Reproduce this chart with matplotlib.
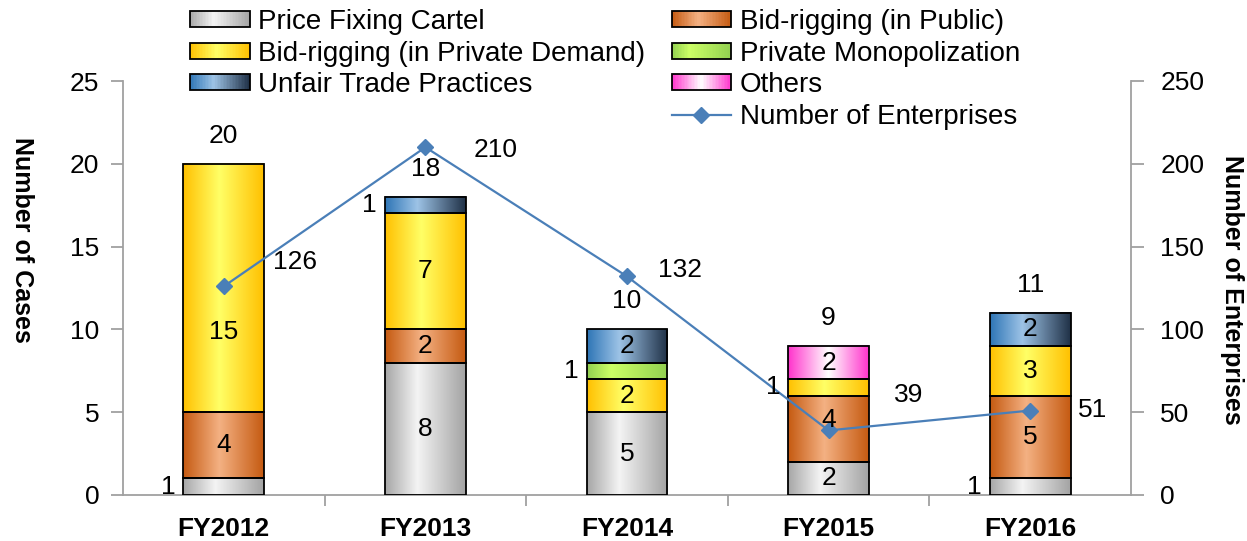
import numpy as np
import matplotlib
matplotlib.use('Agg')
import matplotlib.pyplot as plt
from matplotlib.colors import LinearSegmentedColormap
from matplotlib.patches import Rectangle
from matplotlib.lines import Line2D
from matplotlib.legend_handler import HandlerBase

years = ['FY2012', 'FY2013', 'FY2014', 'FY2015', 'FY2016']
price_fixing = [1, 8, 5, 2, 1]
bid_public = [4, 2, 0, 4, 5]
bid_private = [15, 7, 2, 1, 3]
private_mono = [0, 0, 1, 0, 0]
unfair_trade = [0, 1, 2, 0, 2]
others = [0, 0, 0, 2, 0]
enterprises = [126, 210, 132, 39, 51]

series_names = ['Price Fixing Cartel', 'Bid-rigging (in Public)',
                'Bid-rigging (in Private Demand)', 'Private Monopolization',
                'Unfair Trade Practices', 'Others']
series_vals = [price_fixing, bid_public, bid_private, private_mono,
               unfair_trade, others]

# horizontal gradient stops for each series
grads = [
    [(0, '#a6a6a6'), (0.4, '#f4f4f4'), (1, '#a3a3a3')],
    [(0, '#c55a11'), (0.45, '#f4b183'), (1, '#c55a11')],
    [(0, '#ffc000'), (0.45, '#ffff66'), (1, '#ffc000')],
    [(0, '#92d050'), (0.3, '#ccff66'), (1, '#92d050')],
    [(0, '#2e75b6'), (0.4, '#9dc3e6'), (1, '#1f3046')],
    [(0, '#ff33cc'), (0.5, '#ffffff'), (1, '#ff33cc')],
]
cmaps = [LinearSegmentedColormap.from_list('g%d' % i, g) for i, g in enumerate(grads)]
line_col = '#4a7fb8'
axis_col = '#a0a0a0'

# a few segment labels were nudged by hand in the original (pixels)
label_nudge = {(2, 0): (0, -44), (1, 3): (0, 9)}

plt.rcParams['font.family'] = ['Liberation Sans', 'DejaVu Sans']
plt.rcParams['font.size'] = 19

fig = plt.figure(figsize=(12.47, 5.41), dpi=100)
ax = fig.add_axes([123/1247, 1-495/541, 1008/1247, 414/541])
ax2 = ax.twinx()

x = np.arange(len(years))
w = 0.4
grad_img = np.linspace(0, 1, 256).reshape(1, -1)

bottoms = np.zeros(len(years))
for k, (vals, cm) in enumerate(zip(series_vals, cmaps)):
    for i, v in enumerate(vals):
        if v == 0:
            continue
        b = bottoms[i]
        ax.imshow(grad_img, cmap=cm, aspect='auto', zorder=2,
                  extent=[x[i]-w/2, x[i]+w/2, b, b+v])
        ax.bar(x[i], v, w, bottom=b, facecolor='none', edgecolor='black',
               linewidth=1.3, zorder=3)
        # labels go on ax2 so they sit above the line
        if v == 1:
            ax2.annotate(str(v), (x[i]-w/2, b+v/2), xycoords=ax.transData,
                         xytext=(-8, 0), textcoords='offset pixels',
                         ha='right', va='center', zorder=6)
        else:
            ax2.annotate(str(v), (x[i], b+v/2), xycoords=ax.transData,
                         xytext=label_nudge.get((k, i), (0, 0)),
                         textcoords='offset pixels',
                         ha='center', va='center', zorder=6)
    bottoms += np.array(vals)

for i, t in enumerate(bottoms):
    ax.annotate(str(int(t)), (x[i], t), xytext=(0, 28),
                textcoords='offset pixels', ha='center', va='center')

ax.set_xlim(-0.5, 4.5)
ax.set_ylim(0, 25)
ax.set_yticks(range(0, 26, 5))
ax.set_xticks(x)
ax.set_xticklabels(years, fontweight='bold', fontsize=19)
ax.set_xticks(np.arange(0.5, 4.5, 1), minor=True)
ax.tick_params(axis='x', which='major', length=0, pad=16)
ax.tick_params(axis='x', which='minor', length=8, color=axis_col, width=1.3)
ax.tick_params(axis='y', length=9, color=axis_col, width=1.3, pad=8)
for s in ['top', 'right']:
    ax.spines[s].set_visible(False)
for s in ['left', 'bottom']:
    ax.spines[s].set_color(axis_col)
    ax.spines[s].set_linewidth(1.3)
ax.set_ylabel('Number of Cases', fontweight='bold', fontsize=18,
              rotation=-90, ha='center', va='center')
ax.yaxis.set_label_coords(-0.100, 0.616)

ax2.plot(x, enterprises, color=line_col, lw=1.6, marker='D', ms=8, zorder=5)
offs = [(71, 24), (70, -3), (53, 6), (80, 35), (62, 1)]
for i, v in enumerate(enterprises):
    ax2.annotate(str(v), (x[i], v), xytext=offs[i], textcoords='offset pixels',
                 ha='center', va='center')
ax2.set_ylim(0, 250)
ax2.set_yticks(range(0, 251, 50))
ax2.tick_params(axis='y', length=9, color=axis_col, width=1.3, pad=12)
for s in ['top', 'left', 'bottom']:
    ax2.spines[s].set_visible(False)
ax2.spines['right'].set_color(axis_col)
ax2.spines['right'].set_linewidth(1.3)
ax2.set_ylabel('Number of Enterprises', fontweight='bold', fontsize=18,
               rotation=-90, ha='center', va='center')
ax2.yaxis.set_label_coords(1.100, 0.496)


class GradHandler(HandlerBase):
    def __init__(self, cmap):
        super().__init__()
        self.cmap = cmap

    def create_artists(self, legend, orig_handle, xdescent, ydescent,
                       width, height, fontsize, trans):
        arts = []
        n = 40
        for j in range(n):
            arts.append(Rectangle((-xdescent + width*j/n, -ydescent),
                                  width/n*1.05, height,
                                  facecolor=self.cmap((j+0.5)/n),
                                  edgecolor='none', transform=trans))
        arts.append(Rectangle((-xdescent, -ydescent), width, height,
                              facecolor='none', edgecolor='black', lw=1.3,
                              transform=trans))
        return arts


proxies = [Rectangle((0, 0), 1, 1) for _ in series_names]
blank = Line2D([], [], color='none')
line_proxy = Line2D([], [], color=line_col, lw=1.6, marker='D', ms=8)
order = [0, 2, 4]
order2 = [1, 3, 5]
handles = [proxies[k] for k in order] + [blank] + \
          [proxies[k] for k in order2] + [line_proxy]
labels = [series_names[k] for k in order] + [''] + \
         [series_names[k] for k in order2] + ['Number of Enterprises']
hmap = {proxies[k]: GradHandler(cmaps[k]) for k in range(len(proxies))}
fig.legend(handles, labels, handler_map=hmap, ncol=2, frameon=False,
           loc='upper left', bbox_to_anchor=(190/1247, 1 - 9/541),
           borderpad=0, borderaxespad=0, labelspacing=0.2,
           handlelength=2.15, handleheight=0.5, handletextpad=0.3,
           columnspacing=0.95, fontsize=20)

fig.savefig('out.png', dpi=100)
